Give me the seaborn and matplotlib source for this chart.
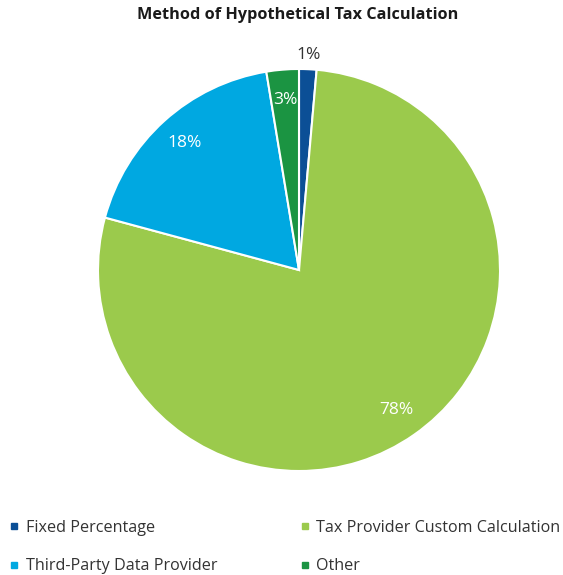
import matplotlib
matplotlib.use('Agg')
import matplotlib.pyplot as plt
from matplotlib.lines import Line2D
import seaborn as sns

# --- DATA ---
categories = ['Fixed Percentage', 'Tax Provider Custom Calculation',
              'Third-Party Data Provider', 'Other']
shares = [1.4, 77.8, 18.2, 2.6]
colors = ['#0b4f96', '#9bca4c', '#00a8e1', '#1b9442']
title = 'Method of Hypothetical Tax Calculation'

# --- STYLE ---
sns.set_style('white')
plt.rcParams['font.family'] = ['Open Sans', 'DejaVu Sans']

fig = plt.figure(figsize=(5.63, 5.75), dpi=100)
W, H = 563, 575
# pie centre (299, 270) px from top-left, radius ~201 px
r = 201
ax = fig.add_axes([(299 - 1.25 * r) / W, (H - 270 - 1.25 * r) / H,
                   2.5 * r / W, 2.5 * r / H])

wedges, texts, autotexts = ax.pie(
    shares, colors=colors, startangle=90, counterclock=False,
    autopct='%1.0f%%', pctdistance=0.85,
    wedgeprops=dict(edgecolor='white', linewidth=1.5),
    textprops=dict(color='white', fontsize=12.5))
ax.set_xlim(-1.25, 1.25)
ax.set_ylim(-1.25, 1.25)
ax.set_aspect('equal')

# smallest slice label sits outside the pie in dark text
x, y = autotexts[0].get_position()
autotexts[0].set_position((x * 1.07 / 0.85, y * 1.07 / 0.85))
autotexts[0].set_color('#333333')

fig.text(298 / W, 1 - 15 / H, title, ha='center', va='center',
         fontsize=11.7, fontweight='bold', color='#1a1a1a')

# legend: 2 columns, rows filled left-to-right
order = [0, 2, 1, 3]
handles = [Line2D([], [], marker='s', linestyle='none', markersize=5,
                  markerfacecolor=colors[i], markeredgecolor=colors[i])
           for i in order]
labels = [categories[i] for i in order]
fig.legend(handles, labels, ncol=2, loc='upper left',
           bbox_to_anchor=(-0.009, 1 - 505 / H), frameon=False,
           fontsize=11.6, handlelength=0.6, handletextpad=0.4,
           columnspacing=5.15, labelspacing=1.42, labelcolor='#333333')

fig.savefig('out.png', dpi=100)
